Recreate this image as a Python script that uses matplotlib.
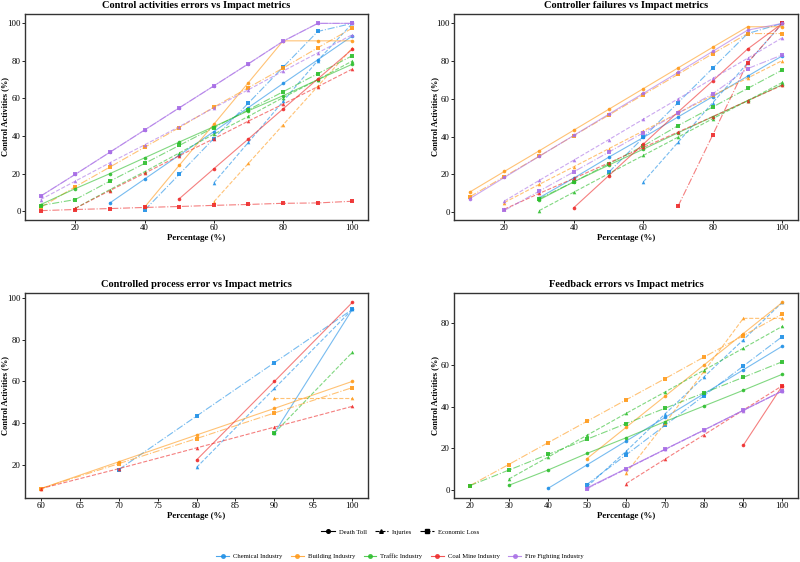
import numpy as np
import matplotlib
matplotlib.use("Agg")
import matplotlib.pyplot as plt
from matplotlib.lines import Line2D

nan = np.nan
plt.rcParams['font.family'] = ['Liberation Serif', 'DejaVu Serif']

industries = ["Chemical Industry", "Building Industry", "Traffic Industry",
              "Coal Mine Industry", "Fire Fighting Industry"]
metrics = ["Death Toll", "Injuries", "Economic Loss"]
colors = ["#1E8FE6", "#FF9A1A", "#2DBE2D", "#EE2A2A", "#A970E6"]
styles = ["-", "--", "-."]
markers = ["o", "^", "s"]

titles = ["Control activities errors vs Impact metrics",
          "Controller failures vs Impact metrics",
          "Controlled process error vs Impact metrics",
          "Feedback errors vs Impact metrics"]

# ---- Panel 1: Control activities errors ----
x1 = [10, 20, 30, 40, 50, 60, 70, 80, 90, 100]
p1_chem_death = [nan, nan, 4.4, 17.1, 29.8, 42.4, 55.2, 68.0, 80.6, 93.3]
p1_chem_inj = [nan, nan, nan, nan, nan, 15.1, 36.7, 58.5, 80.2, 100]
p1_chem_econ = [nan, nan, nan, 0.5, 19.6, 38.7, 57.6, 76.7, 95.7, 100]
p1_build_death = [nan, nan, nan, 2.1, 24.4, 46.3, 68.5, 90.7, 90.7, 90.7]
p1_build_inj = [nan, nan, nan, nan, nan, 5.0, 25.5, 46.0, 66.5, 87.0]
p1_build_econ = [2.0, 13.0, 23.5, 34.0, 44.5, 55.4, 65.8, 76.2, 87.0, 97.5]
p1_traffic_death = [3.5, 12.0, 20.0, 28.4, 36.8, 45.0, 53.5, 61.5, 70.0, 78.3]
p1_traffic_inj = [nan, 1.5, 11.5, 21.0, 31.0, 41.0, 50.5, 60.5, 70.0, 80.0]
p1_traffic_econ = [3.0, 6.2, 16.0, 25.4, 35.0, 44.5, 54.0, 63.6, 73.2, 82.8]
p1_coal_death = [nan, nan, nan, nan, 6.6, 22.6, 38.5, 54.5, 70.4, 86.3]
p1_coal_inj = [nan, 1.5, 11.0, 20.2, 29.5, 38.6, 48.0, 57.0, 66.3, 75.7]
p1_coal_econ = [0.3, 0.9, 1.4, 2.0, 2.5, 3.1, 3.6, 4.2, 4.4, 5.3]
p1_fire_death = [8.0, 19.6, 31.4, 43.2, 55.0, 66.7, 78.5, 90.5, 100, 100]
p1_fire_inj = [6.2, 16.0, 25.8, 35.3, 45.0, 55.0, 64.7, 74.6, 84.3, 94.0]
p1_fire_econ = [8.0, 19.6, 31.4, 43.2, 55.0, 66.7, 78.5, 90.5, 100, 100]

# ---- Panel 2: Controller failures ----
x2 = [10, 20, 30, 40, 50, 60, 70, 80, 90, 100]
p2_chem_death = [nan, nan, 7.5, 18.0, 29.0, 39.5, 50.4, 61.2, 72.0, 82.8]
p2_chem_inj = [nan, nan, nan, nan, nan, 16.0, 37.0, 58.0, 79.0, 100]
p2_chem_econ = [nan, nan, nan, nan, 21.0, 39.5, 58.0, 76.3, 94.6, 100]
p2_build_death = [10.5, 21.5, 32.4, 43.4, 54.4, 65.4, 76.4, 87.4, 98.2, 98.2]
p2_build_inj = [nan, 5.0, 14.6, 24.0, 33.5, 43.0, 52.4, 61.8, 71.0, 80.3]
p2_build_econ = [8.0, 18.8, 29.5, 40.5, 51.3, 62.2, 73.0, 84.0, 94.6, 94.6]
p2_traffic_death = [nan, nan, 6.4, 16.0, 24.8, 33.3, 42.0, 50.5, 59.0, 67.5]
p2_traffic_inj = [nan, nan, 0.7, 10.5, 20.3, 30.0, 39.7, 49.5, 59.0, 68.7]
p2_traffic_econ = [nan, nan, 7.0, 16.0, 25.5, 35.0, 45.8, 55.7, 65.5, 75.3]
p2_coal_death = [nan, nan, nan, 2.3, 19.2, 36.0, 53.0, 69.6, 86.4, 100]
p2_coal_inj = [nan, 1.5, 9.8, 17.8, 26.0, 34.2, 42.4, 50.6, 59.0, 67.2]
p2_coal_econ = [nan, nan, nan, nan, nan, nan, 3.1, 41.0, 79.2, 100]
p2_fire_death = [7.0, 18.3, 29.5, 40.6, 51.8, 62.9, 74.0, 85.2, 96.4, 100]
p2_fire_inj = [nan, 5.8, 16.7, 27.5, 38.3, 49.2, 60.0, 70.8, 81.5, 92.4]
p2_fire_econ = [nan, 0.8, 11.0, 21.3, 31.7, 42.0, 52.4, 62.7, 76.0, 83.3]

# ---- Panel 3: Controlled process error ----
x3 = [60, 70, 80, 90, 100]
p3_chem_death = [nan, nan, nan, 35.2, 94.6]
p3_chem_inj = [nan, nan, 18.6, 56.6, 94.6]
p3_chem_econ = [nan, 17.5, 43.3, 69.0, 94.6]
p3_build_death = [8.4, 21.3, 34.2, 47.0, 60.0]
p3_build_inj = [nan, nan, nan, 52.0, 52.0]
p3_build_econ = [8.4, 20.4, 32.5, 44.8, 57.0]
p3_traffic_death = [nan, nan, nan, nan, nan]
p3_traffic_inj = [nan, nan, nan, 35.2, 74.0]
p3_traffic_econ = [nan, nan, nan, 35.2, nan]
p3_coal_death = [nan, nan, 22.2, 60.0, 98.0]
p3_coal_inj = [8.4, 18.0, 28.0, 38.0, 48.0]
p3_coal_econ = [nan, nan, nan, nan, nan]
p3_fire_death = [nan, nan, nan, nan, nan]
p3_fire_inj = [nan, nan, nan, nan, nan]
p3_fire_econ = [nan, nan, nan, nan, nan]

# ---- Panel 4: Feedback errors ----
x4 = [20, 30, 40, 50, 60, 70, 80, 90, 100]
p4_chem_death = [nan, nan, 0.7, 12.0, 23.4, 34.8, 46.2, 57.6, 69.0]
p4_chem_inj = [nan, nan, nan, 1.5, 18.5, 36.5, 54.3, 72.0, 90.0]
p4_chem_econ = [nan, nan, nan, 2.6, 16.8, 31.0, 45.3, 59.4, 73.6]
p4_build_death = [nan, nan, nan, 15.0, 30.0, 45.0, 60.0, 75.0, 90.0]
p4_build_inj = [nan, nan, nan, nan, 8.0, 32.0, 57.0, 82.3, 82.3]
p4_build_econ = [2.0, 12.2, 22.6, 32.9, 43.2, 53.4, 63.8, 74.0, 84.4]
p4_traffic_death = [nan, 2.2, 9.5, 17.5, 25.0, 32.8, 40.3, 47.8, 55.5]
p4_traffic_inj = [nan, 5.2, 15.7, 26.2, 36.7, 47.0, 57.5, 68.0, 78.5]
p4_traffic_econ = [2.0, 9.5, 17.0, 24.3, 31.8, 39.2, 46.6, 54.0, 61.5]
p4_coal_death = [nan, nan, nan, nan, nan, nan, nan, 21.4, 50.0]
p4_coal_inj = [nan, nan, nan, nan, 3.0, 14.8, 26.5, 38.3, 50.0]
p4_coal_econ = [nan, nan, nan, nan, nan, nan, nan, nan, 50.0]
p4_fire_death = [nan, nan, nan, 1.0, 10.2, 19.5, 28.8, 38.2, 47.5]
p4_fire_inj = [nan, nan, nan, 0.8, 10.0, 19.4, 28.7, 38.1, 47.5]
p4_fire_econ = [nan, nan, nan, 0.6, 10.1, 19.5, 28.8, 38.2, 47.5]

panels = [
    (x1, [[p1_chem_death, p1_chem_inj, p1_chem_econ],
          [p1_build_death, p1_build_inj, p1_build_econ],
          [p1_traffic_death, p1_traffic_inj, p1_traffic_econ],
          [p1_coal_death, p1_coal_inj, p1_coal_econ],
          [p1_fire_death, p1_fire_inj, p1_fire_econ]]),
    (x2, [[p2_chem_death, p2_chem_inj, p2_chem_econ],
          [p2_build_death, p2_build_inj, p2_build_econ],
          [p2_traffic_death, p2_traffic_inj, p2_traffic_econ],
          [p2_coal_death, p2_coal_inj, p2_coal_econ],
          [p2_fire_death, p2_fire_inj, p2_fire_econ]]),
    (x3, [[p3_chem_death, p3_chem_inj, p3_chem_econ],
          [p3_build_death, p3_build_inj, p3_build_econ],
          [p3_traffic_death, p3_traffic_inj, p3_traffic_econ],
          [p3_coal_death, p3_coal_inj, p3_coal_econ],
          [p3_fire_death, p3_fire_inj, p3_fire_econ]]),
    (x4, [[p4_chem_death, p4_chem_inj, p4_chem_econ],
          [p4_build_death, p4_build_inj, p4_build_econ],
          [p4_traffic_death, p4_traffic_inj, p4_traffic_econ],
          [p4_coal_death, p4_coal_inj, p4_coal_econ],
          [p4_fire_death, p4_fire_inj, p4_fire_econ]]),
]

W, H = 800, 562
fig = plt.figure(figsize=(8, 5.62), dpi=100)

def px_axes(l, t, r, b):
    return fig.add_axes([l / W, 1 - b / H, (r - l) / W, (b - t) / H])

boxes = [(25, 14, 368, 220), (454, 14, 798, 220),
         (25, 293, 368, 498), (454, 293, 798, 498)]
ylabel_px = [9.5, 439.5, 9.5, 439.5]

for (xv, series), box, title, ylx in zip(panels, boxes, titles, ylabel_px):
    ax = px_axes(*box)
    xa = np.array(xv, dtype=float)
    for ci, ind in enumerate(series):
        for mi, vals in enumerate(ind):
            v = np.array(vals, dtype=float)
            mask = ~np.isnan(v)
            if not mask.any():
                continue
            ax.plot(xa[mask], v[mask], linestyle=styles[mi], color=colors[ci],
                    linewidth=0.8, alpha=0.6)
            ax.plot(xa[mask], v[mask], linestyle='none', marker=markers[mi],
                    color=colors[ci], markersize=2.6, alpha=0.9,
                    markeredgewidth=0)
    ax.set_title(title, fontsize=7.5, fontweight='bold', pad=4)
    ax.set_xlabel("Percentage (%)", fontsize=6.4, fontweight='bold', labelpad=1)
    ax.set_ylabel("Control Activities (%)", fontsize=6.0, fontweight='bold')
    ax.yaxis.set_label_coords((ylx - box[0]) / (box[2] - box[0]), 0.5)
    ax.tick_params(labelsize=6.3, length=2, width=0.6, pad=1)
    for s in ax.spines.values():
        s.set_linewidth(1.0)
        s.set_color('#333333')
    if xv[0] == 60:
        ax.set_xticks([60, 65, 70, 75, 80, 85, 90, 95, 100])

# legends
h1 = [Line2D([0], [0], color='black', linestyle=styles[i], marker=markers[i],
             markersize=2.6, linewidth=0.8) for i in range(3)]
fig.legend(h1, metrics, loc='center', bbox_to_anchor=(0.5, 1 - 532 / H),
           ncol=3, frameon=False, fontsize=4.8, handlelength=2.0,
           columnspacing=1.2, handletextpad=0.6)
h2 = [Line2D([0], [0], color=colors[i], linestyle='-', marker='o',
             markersize=2.6, linewidth=0.8, alpha=0.8) for i in range(5)]
fig.legend(h2, industries, loc='center', bbox_to_anchor=(0.5, 1 - 556 / H),
           ncol=5, frameon=False, fontsize=4.8, handlelength=1.9,
           columnspacing=1.3, handletextpad=0.6)

fig.savefig("out.png", dpi=100)
